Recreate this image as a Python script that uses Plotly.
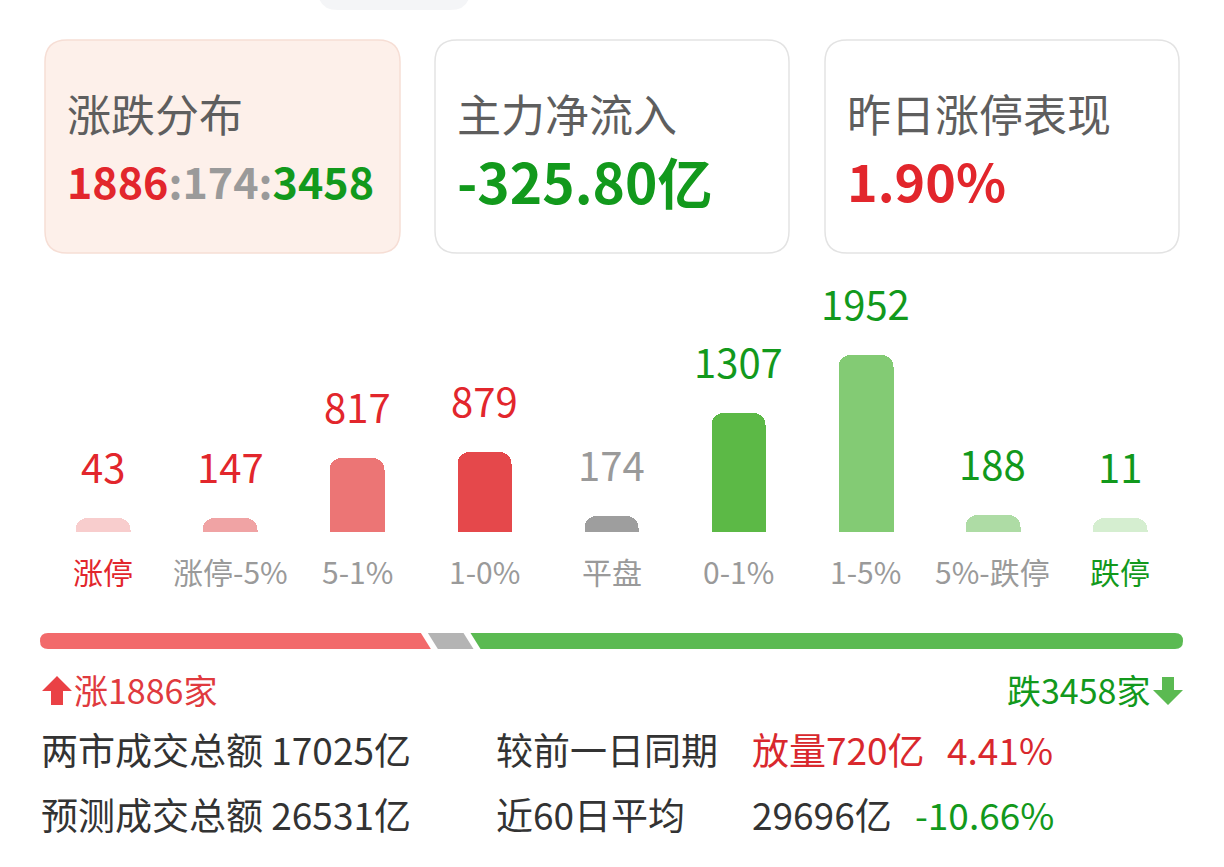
import plotly.graph_objects as go

# ---------------- data ----------------
categories = ['涨停', '涨停-5%', '5-1%', '1-0%', '平盘', '0-1%', '1-5%', '5%-跌停', '跌停']
counts = [43, 147, 817, 879, 174, 1307, 1952, 188, 11]
up_count = 1886
flat_count = 174
down_count = 3458
net_inflow_text = '-325.80亿'
limit_up_perf_text = '1.90%'
turnover_text = '17025亿'
forecast_text = '26531亿'
vs_prev_text = '放量720亿'
vs_prev_pct = '4.41%'
avg60_text = '29696亿'
avg60_pct = '-10.66%'

# ---------------- styles ----------------
W, H = 1224, 867
FONT = 'Noto Sans CJK SC, Noto Sans, sans-serif'
RED = '#E2262C'
GREEN = '#12991C'
GRAY = '#9A9A9A'
bar_colors = ['#F8CDCD', '#F0A3A4', '#EC7575', '#E5484B', '#9E9E9E',
              '#5CB946', '#83CB74', '#AEDCA5', '#D5EED0']
label_colors = [RED, RED, RED, RED, GRAY, GREEN, GREEN, GREEN, GREEN]
cat_colors = [RED, GRAY, GRAY, GRAY, GRAY, GRAY, GRAY, GRAY, GREEN]


def px(x):
    return x / W


def py(y):
    return 1 - y / H


def rounded_rect(x0, y0, x1, y1, r):
    rx, ry = r / W, r / H
    X0, X1, Y0, Y1 = px(x0), px(x1), py(y0), py(y1)
    return (f"M {X0+rx},{Y0} L {X1-rx},{Y0} Q {X1},{Y0} {X1},{Y0-ry} "
            f"L {X1},{Y1+ry} Q {X1},{Y1} {X1-rx},{Y1} L {X0+rx},{Y1} "
            f"Q {X0},{Y1} {X0},{Y1+ry} L {X0},{Y0-ry} Q {X0},{Y0} {X0+rx},{Y0} Z")


# bar axis geometry
BASE_PX, TOP_PX = 532, 300
PX_PER_UNIT = 177 / 1952
y_max = (BASE_PX - TOP_PX) / PX_PER_UNIT
min_units = 14 / PX_PER_UNIT
display_h = [max(v, min_units) for v in counts]

fig = go.Figure()
fig.add_trace(go.Bar(
    x=list(range(len(categories))), y=display_h,
    marker=dict(color=bar_colors, cornerradius=12, line=dict(width=0)),
    width=0.43, hoverinfo='skip', showlegend=False,
))

# progress bar axis (counts)
total = up_count + flat_count + down_count
bar_left, bar_right = 40, 1183
gap_px, slant_px, rad_px = 7, 10, 8
ppu = (bar_right - bar_left - 2 * gap_px) / total
g = gap_px / ppu
s = slant_px / ppu
r = rad_px / ppu
span = total + 2 * g
fig.add_trace(go.Scatter(x=[0, span], y=[0, 1], xaxis='x2', yaxis='y2', mode='markers',
                         marker=dict(opacity=0), hoverinfo='skip', showlegend=False))

shapes = []
# cards
shapes.append(dict(type='path', xref='paper', yref='paper', path=rounded_rect(45, 40, 400, 253, 22),
                   fillcolor='#FDF0EA', line=dict(color='#F6DED5', width=1.5), layer='below'))
shapes.append(dict(type='path', xref='paper', yref='paper', path=rounded_rect(435, 40, 789, 253, 22),
                   fillcolor='#FFFFFF', line=dict(color='#E3E3E3', width=1.5), layer='below'))
shapes.append(dict(type='path', xref='paper', yref='paper', path=rounded_rect(825, 40, 1179, 253, 22),
                   fillcolor='#FFFFFF', line=dict(color='#E3E3E3', width=1.5), layer='below'))
# partial pill at top
shapes.append(dict(type='path', xref='paper', yref='paper', path=rounded_rect(318, -30, 470, 10, 20),
                   fillcolor='#F4F5F7', line=dict(width=0), layer='below'))

# progress bar segments (x in count units on x2, y in paper)
top, bot, mid = py(633), py(649), py(641)
a1 = up_count
pr = (f"M {r},{top} L {a1 - s/2},{top} L {a1 + s/2},{bot} L {r},{bot} "
      f"Q 0,{bot} 0,{mid} Q 0,{top} {r},{top} Z")
shapes.append(dict(type='path', xref='x2', yref='paper', path=pr, fillcolor='#F26A6B', line=dict(width=0)))
b0 = up_count + g
b1 = b0 + flat_count
pg = (f"M {b0 - s/2},{top} L {b1 - s/2},{top} L {b1 + s/2},{bot} L {b0 + s/2},{bot} Z")
shapes.append(dict(type='path', xref='x2', yref='paper', path=pg, fillcolor='#B4B4B4', line=dict(width=0)))
c0 = b1 + g
c1 = c0 + down_count
pgr = (f"M {c0 - s/2},{top} L {c1 - r},{top} Q {c1},{top} {c1},{mid} "
       f"Q {c1},{bot} {c1 - r},{bot} L {c0 + s/2},{bot} Z")
shapes.append(dict(type='path', xref='x2', yref='paper', path=pgr, fillcolor='#5BBA52', line=dict(width=0)))


# arrows
def up_arrow(cx, ytop, ybot):
    hw, sw, hb = 15, 6, ytop + 15
    return (f"M {px(cx)},{py(ytop)} L {px(cx+hw)},{py(hb)} L {px(cx+sw)},{py(hb)} "
            f"L {px(cx+sw)},{py(ybot)} L {px(cx-sw)},{py(ybot)} L {px(cx-sw)},{py(hb)} "
            f"L {px(cx-hw)},{py(hb)} Z")


def down_arrow(cx, ytop, ybot):
    hw, sw, hb = 15, 6, ybot - 15
    return (f"M {px(cx)},{py(ybot)} L {px(cx+hw)},{py(hb)} L {px(cx+sw)},{py(hb)} "
            f"L {px(cx+sw)},{py(ytop)} L {px(cx-sw)},{py(ytop)} L {px(cx-sw)},{py(hb)} "
            f"L {px(cx-hw)},{py(hb)} Z")


shapes.append(dict(type='path', xref='paper', yref='paper', path=up_arrow(57, 676, 705),
                   fillcolor='#EA4145', line=dict(width=0)))
shapes.append(dict(type='path', xref='paper', yref='paper', path=down_arrow(1168, 677, 705),
                   fillcolor='#5BBA52', line=dict(width=0)))

ann = []


def text(x, y, t, size, color, anchor='left', bold=False):
    if bold:
        t = f'<b>{t}</b>'
    ann.append(dict(x=px(x), y=py(y), xref='paper', yref='paper', text=t, showarrow=False,
                    xanchor=anchor, yanchor='middle',
                    font=dict(family=FONT, size=size, color=color)))


# card texts
text(65, 113, '涨跌分布', 44, '#5E5E5E')
text(65, 180, f'<span style="color:{RED}">{up_count}</span>'
              f'<span style="color:{GRAY}">:{flat_count}:</span>'
              f'<span style="color:{GREEN}">{down_count}</span>', 43, RED, bold=True)
text(455, 113, '主力净流入', 44, '#5E5E5E')
text(455, 180, net_inflow_text, 55, GREEN, bold=True)
text(845, 113, '昨日涨停表现', 44, '#5E5E5E')
text(845, 180, limit_up_perf_text, 52, RED, bold=True)

# bar labels
for i, (c, v) in enumerate(zip(categories, counts)):
    ann.append(dict(x=i, y=display_h[i], xref='x', yref='y', text=str(v), showarrow=False,
                    yanchor='middle', yshift=52, xanchor='center',
                    font=dict(family=FONT, size=40, color=label_colors[i])))
    ann.append(dict(x=i, y=0, xref='x', yref='y', text=c, showarrow=False,
                    yanchor='middle', yshift=-39, xanchor='center',
                    font=dict(family=FONT, size=30, color=cat_colors[i])))

# up/down counts
text(72, 689, f'涨{up_count}家', 34, '#E03A3E')
text(1152, 689, f'跌{down_count}家', 34, GREEN, anchor='right')

# bottom rows
text(39, 749, f'两市成交总额 {turnover_text}', 37, '#333333')
text(494, 749, '较前一日同期', 37, '#333333')
text(750, 749, vs_prev_text, 37, '#D9282D')
text(945, 749, vs_prev_pct, 37, '#D9282D')
text(39, 814, f'预测成交总额 {forecast_text}', 37, '#333333')
text(494, 814, '近60日平均', 37, '#333333')
text(750, 814, avg60_text, 37, '#333333')
text(913, 814, avg60_pct, 37, GREEN)

fig.update_layout(
    width=W, height=H, margin=dict(l=0, r=0, t=0, b=0),
    paper_bgcolor='white', plot_bgcolor='rgba(0,0,0,0)',
    xaxis=dict(domain=[px(103 - 63.5), px(1120 + 63.5)], range=[-0.5, len(categories) - 0.5],
               visible=False, fixedrange=True),
    yaxis=dict(domain=[py(BASE_PX), py(TOP_PX)], range=[0, y_max], visible=False, fixedrange=True),
    xaxis2=dict(domain=[px(bar_left), px(bar_right)], range=[0, span], visible=False,
                anchor='y2', fixedrange=True),
    yaxis2=dict(domain=[py(660), py(625)], range=[0, 1], visible=False, anchor='x2', fixedrange=True),
    shapes=shapes, annotations=ann, showlegend=False, bargap=0,
)

fig.write_html('out.html', config={'displayModeBar': False})
